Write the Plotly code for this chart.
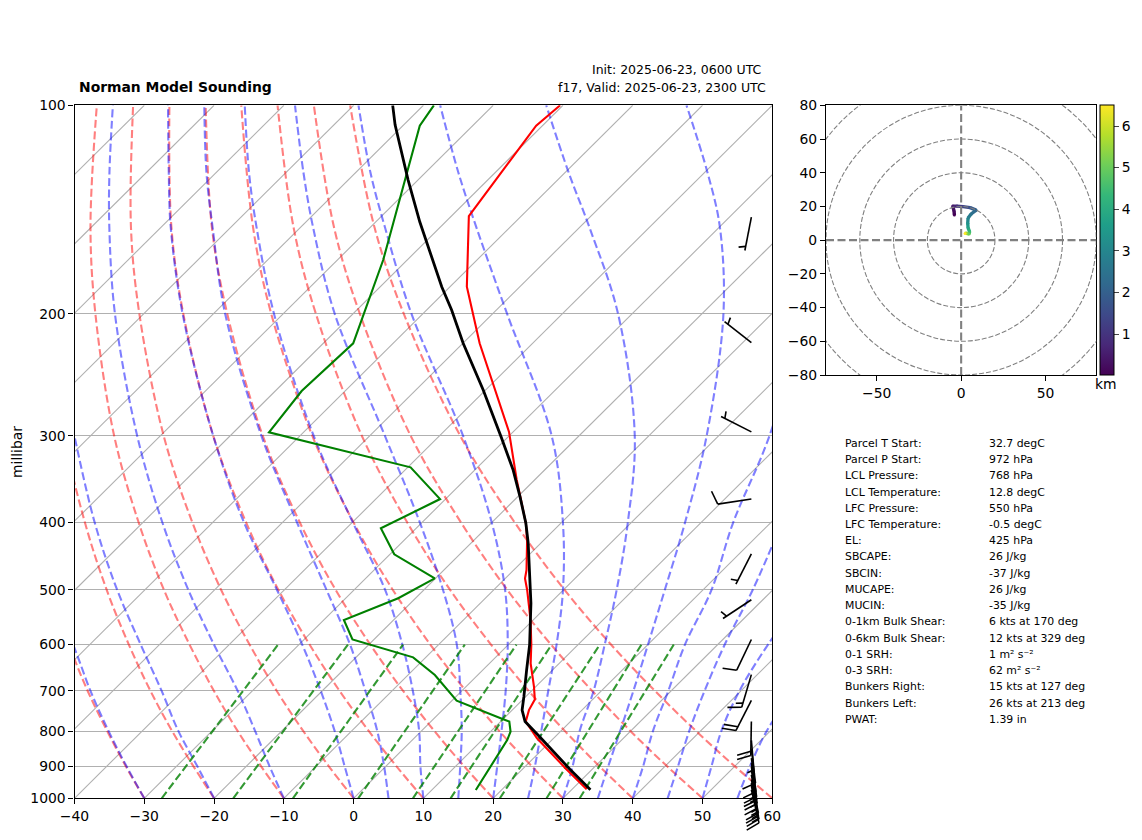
import math
import plotly.graph_objects as go
from plotly.colors import sample_colorscale

# pressure levels the background curves were read at
LEVELS = [1000, 900, 800, 700, 600, 500, 400, 300, 200, 150, 100]
MOIST_LEVELS = [1000, 900, 800, 700, 600, 500, 400, 300, 200, 150, 125, 100]

DRY_ADIABATS = [
    [-30, -37.2, -45.0, -53.6, -63.0, -73.7, -86.0, -100.8, -119.5, -131.8, -147.1],
    [-20, -27.5, -35.7, -44.6, -54.4, -65.5, -78.3, -93.7, -113.2, -125.9, -142.0],
    [-10, -17.8, -26.3, -35.5, -45.7, -57.3, -70.6, -86.6, -106.9, -120.1, -136.8],
    [0, -8.1, -16.9, -26.5, -37.1, -49.1, -62.9, -79.5, -100.6, -114.3, -131.6],
    [10, 1.6, -7.5, -17.5, -28.5, -40.9, -55.2, -72.4, -94.3, -108.5, -126.4],
    [20, 11.3, 1.9, -8.4, -19.8, -32.7, -47.5, -65.3, -88.0, -102.7, -121.2],
    [30, 21.0, 11.2, 0.6, -11.2, -24.5, -39.8, -58.2, -81.7, -96.8, -116.1],
    [40, 30.7, 20.6, 9.6, -2.5, -16.3, -32.1, -51.1, -75.3, -91.0, -110.9],
    [50, 40.4, 30.0, 18.7, 6.1, -8.1, -24.4, -44.1, -69.0, -85.2, -105.7],
    [60, 50.1, 39.4, 27.7, 14.7, 0.1, -16.7, -37.0, -62.7, -79.4, -100.5],
]

MOIST_ADIABATS = [
    [-30, -37.1, -44.8, -53.2, -62.4, -74.0, None, None, None, None, None, None],
    [-20, -26.95, -34.8, -43.0, -52.7, -64.0, -76.9, -92.3, None, None, None, None],
    [-10, -16.6, -23.8, -32.1, -42.2, -53.8, -67.2, -83.3, -104.1, -117.4, -125.3, -134.5],
    [0, -5.85, -12.4, -20.2, -29.55, -41.1, -55.5, -72.4, -94.4, -108.6, -116.8, -126.6],
    [5, -0.2, -6.3, -13.8, -22.7, -34.0, -47.9, -65.5, -88.3, -102.6, -111.4, -121.4],
    [10, 5.0, -0.3, -7.0, -15.2, -25.6, -39.9, -58.0, -81.3, -96.3, -105.3, -115.6],
    [15, 10.7, 5.8, -0.2, -7.4, -17.3, -30.3, -47.8, -72.6, -88.2, -97.5, -108.4],
    [20, 16.0, 11.5, 6.3, -0.1, -8.4, -20.0, -36.6, -61.6, -77.9, -87.9, -99.3],
    [25, 21.4, 17.2, 12.4, 6.9, -0.1, -9.8, -23.9, -47.9, -64.8, -75.3, -87.6],
    [30, 26.8, 22.7, 18.9, 13.8, 7.6, -0.5, -12.0, -32.0, -48.6, -59.5, -72.4],
    [35, 31.9, 28.5, 24.6, 20.0, 14.5, 7.7, -1.7, -16.9, -29.9, -39.6, -52.3],
    [40, 36.9, 33.2, 29.6, 25.3, 21.2, 14.6, 7.3, -5.3, None, None, None],
    [45, 41.9, 38.4, 34.8, 31.0, 27.1, 21.6, None, None, None, None, None],
    [50, 46.7, 43.0, 39.8, 37.2, 35.0, None, None, None, None, None, None],
    [55, 52.2, 49.5, 47.5, None, None, None, None, None, None, None, None],
]

# mixing ratio lines, temperature at 1000 and at 600 hPa
MIXING_P = [1000, 600]
MIXING_T1000 = [-27.5, -17.25, -8.7, 0.66, 8.5, 13.9, 20.96, 27.65, 32.4]
MIXING_T600 = [-33.0, -23.0, -15.1, -6.25, 1.15, 6.2, 13.1, 19.06, 23.7]

ISOTHERMS = [-140, -130, -120, -110, -100, -90, -80, -70, -60, -50, -40, -30,
             -20, -10, 0, 10, 20, 30, 40, 50]

TEMP_P = [970.5, 908, 818.5, 775, 746, 720, 690, 639, 600, 553, 500.5, 481.6,
          468.4, 424, 401, 347, 296, 220.5, 182.7, 144.5, 107, 100]
TEMP_T = [32.1, 26.3, 17.56, 13.6, 12.4, 11.7, 9.73, 5.92, 3.28, -0.37, -5.19, -7.17,
          -8.16, -12.4, -15.0, -22.6, -30.6, -47.6, -57.6, -67.5, -70.9, -70.4]

DEW_P = [973, 824, 801.5, 775, 768.5, 723, 664, 626, 590, 553, 514.5, 481.6, 444.5,
         407.8, 370, 333, 296.4, 258.4, 220.5, 204, 167.2, 148, 125.3, 107, 100]
DEW_T = [16.32, 13.6, 12.88, 11.24, 9.91, 0.68, -6.14, -11.81, -23.08, -27.12, -22.47,
         -20.1, -29.39, -35.05, -30.79, -39.59, -64.94, -66.22, -65.72, -67.87, -73.44,
         -77.3, -82.6, -87.58, -88.5]

PARCEL_P = [972, 908, 818.5, 775, 746, 713.5, 653, 600, 523, 479, 428, 400.6, 367, 336,
            301, 257.5, 220.5, 197.4, 182.7, 147.4, 128.2, 106.7, 100]
PARCEL_T = [32.7, 26.8, 18.13, 13.5, 11.42, 9.74, 6.28, 3.04, -2.74, -6.72, -11.84, -15.05,
            -19.69, -24.5, -31.0, -40.35, -49.96, -56.42, -61.2, -73.66, -81.4, -91.24, -94.4]

BARB_P = [145, 220, 296, 370, 444, 517, 590, 663, 722, 775, 825, 850, 875, 890, 900, 910, 925, 940, 950, 960, 972]
BARB_SPEED = [5, 5, 5, 10, 5, 5, 10, 15, 20, 20, 5, 10, 10, 10, 15, 15, 15, 15, 15, 15, 15]
BARB_DIR = [191, 308, 297, 261.5, 207, 236.5, 205.5, 196.5, 207, 181, 175, 173, 172, 171, 171, 170, 170, 168, 168, 167, 167]

HODO_U = [-4.0, -4.2, -5.0, -2.4, 1.1, 5.3, 8.9, 5.9, 4.1, 3.9, 4.1, 5.0, 4.7, 2.9, 2.3]
HODO_V = [14.9, 17.3, 20.2, 20.2, 19.9, 19.3, 17.8, 15.5, 13.1, 10.1, 7.2, 5.1, 3.6, 4.2, 4.0]
HODO_H = [0.01, 0.2, 0.5, 0.9, 1.3, 1.7, 2.1, 2.5, 2.9, 3.3, 3.8, 4.4, 5.0, 5.6, 6.5]
HODO_RINGS = [20, 40, 60, 80, 100]

TABLE_LABELS = ["Parcel T Start:", "Parcel P Start:", "LCL Pressure:", "LCL Temperature:",
                "LFC Pressure:", "LFC Temperature:", "EL:", "SBCAPE:", "SBCIN:", "MUCAPE:",
                "MUCIN:", "0-1km Bulk Shear:", "0-6km Bulk Shear:", "0-1 SRH:", "0-3 SRH:",
                "Bunkers Right:", "Bunkers Left:", "PWAT:"]
TABLE_VALUES = ["32.7 degC", "972 hPa", "768 hPa", "12.8 degC", "550 hPa", "-0.5 degC",
                "425 hPa", "26 J/kg", "-37 J/kg", "26 J/kg", "-35 J/kg", "6 kts at 170 deg",
                "12 kts at 329 deg", "1 m² s⁻²", "62 m² s⁻²", "15 kts at 127 deg",
                "26 kts at 213 deg", "1.39 in"]

FONT = "DejaVu Sans"
FIG_W, FIG_H = 1126, 824   # page is 1142x840 with the 8px body margin
PAGE_OFF = 8
PX_PER_DEG = 6.978
PX_PER_DECADE = 693
BARB_X = 57
BARB_LEN = 34


def skew(temps, pres):
    return [None if t is None else t + 100 * math.log10(1000 / p) for t, p in zip(temps, pres)]


def px(x):
    return (x - PAGE_OFF) / FIG_W


def py(y):
    return 1 - (y - PAGE_OFF) / FIG_H


def barb_path(p, speed, direction):
    # staff runs from the tip at (BARB_X, p) towards where the wind comes from
    sx = math.sin(math.radians(direction))
    sy = -math.cos(math.radians(direction))  # pixels, y down
    nx, ny = -sy, sx

    def point(dx, dy):
        return BARB_X + dx / PX_PER_DEG, p * 10 ** (dy / PX_PER_DECADE)

    xs, ys = [], []

    def seg(a, b):
        for q in (a, b):
            x, y = point(*q)
            xs.append(x)
            ys.append(y)
        xs.append(None)
        ys.append(None)

    seg((0, 0), (sx * BARB_LEN, sy * BARB_LEN))
    fulls = int(speed // 10)
    half = (speed - fulls * 10) >= 5
    along = BARB_LEN
    step = 0.125 * BARB_LEN
    for _ in range(fulls):
        start = (sx * along, sy * along)
        end = (start[0] + nx * 0.4 * BARB_LEN + sx * step, start[1] + ny * 0.4 * BARB_LEN + sy * step)
        seg(start, end)
        along -= step
    if half:
        if fulls == 0:
            along -= step
        start = (sx * along, sy * along)
        end = (start[0] + nx * 0.2 * BARB_LEN + sx * step / 2, start[1] + ny * 0.2 * BARB_LEN + sy * step / 2)
        seg(start, end)
    return xs, ys


fig = go.Figure()


def skew_line(temps, pres, color, width, dash=None, shape="linear"):
    fig.add_trace(go.Scatter(x=skew(temps, pres), y=pres, mode="lines", xaxis="x", yaxis="y",
                             line=dict(color=color, width=width, dash=dash, shape=shape),
                             hoverinfo="skip", showlegend=False))


for t in ISOTHERMS:
    skew_line([t, t], [1000, 100], "#b0b0b0", 1.1)
for curve in DRY_ADIABATS:
    skew_line(curve, LEVELS, "rgba(255,0,0,0.5)", 2.1, "8px,3.5px", "spline")
for curve in MOIST_ADIABATS:
    skew_line(curve, MOIST_LEVELS, "rgba(0,0,255,0.5)", 2.1, "8px,3.5px", "spline")
for t0, t1 in zip(MIXING_T1000, MIXING_T600):
    skew_line([t0, t1], MIXING_P, "rgba(0,128,0,0.8)", 2.1, "8px,3.5px")

skew_line(TEMP_T, TEMP_P, "red", 2.1)
skew_line(DEW_T, DEW_P, "green", 2.1)
skew_line(PARCEL_T, PARCEL_P, "black", 2.8)

barb_x, barb_y = [], []
for p, s, d in zip(BARB_P, BARB_SPEED, BARB_DIR):
    bx, by = barb_path(p, s, d)
    barb_x += bx
    barb_y += by
fig.add_trace(go.Scatter(x=barb_x, y=barb_y, mode="lines", xaxis="x3", yaxis="y3",
                         line=dict(color="black", width=1.6), hoverinfo="skip", showlegend=False))

# hodograph, one segment per colour
cmin, cmax = HODO_H[0], HODO_H[-1]
for i in range(len(HODO_H) - 1):
    mid = ((HODO_H[i] + HODO_H[i + 1]) / 2 - cmin) / (cmax - cmin)
    fig.add_trace(go.Scatter(x=HODO_U[i:i + 2], y=HODO_V[i:i + 2], mode="lines", xaxis="x2", yaxis="y2",
                             line=dict(color=sample_colorscale("Viridis", mid)[0], width=3.4),
                             hoverinfo="skip", showlegend=False))
fig.add_trace(go.Scatter(x=HODO_U, y=HODO_V, mode="markers", xaxis="x2", yaxis="y2", hoverinfo="skip",
                         showlegend=False,
                         marker=dict(size=3, color=HODO_H, colorscale="Viridis", cmin=cmin, cmax=cmax,
                                     colorbar=dict(x=px(1100), xanchor="left", xpad=0, y=py(240.2),
                                                   yanchor="middle", ypad=0, len=270 / FIG_H, lenmode="fraction",
                                                   thickness=14, thicknessmode="pixels", outlinewidth=1,
                                                   outlinecolor="black", tickvals=[1, 2, 3, 4, 5, 6],
                                                   ticks="outside", ticklen=5, tickwidth=1,
                                                   tickfont=dict(family=FONT, size=13.9, color="black")))))

shapes = []
for r in HODO_RINGS:
    shapes.append(dict(type="circle", xref="x2", yref="y2", x0=-r, x1=r, y0=-r, y1=r,
                       line=dict(color="grey", width=1.1, dash="5px,2px")))
shapes.append(dict(type="line", xref="x2", yref="y2", x0=-80, x1=80, y0=0, y1=0,
                   line=dict(color="grey", width=2.1, dash="8px,3.5px")))
shapes.append(dict(type="line", xref="x2", yref="y2", x0=0, x1=0, y0=-80, y1=80,
                   line=dict(color="grey", width=2.1, dash="8px,3.5px")))

annotations = []


def text(x, y, s, size, anchor="left", bold=False, angle=0):
    annotations.append(dict(x=px(x), y=py(y), xref="paper", yref="paper", text=f"<b>{s}</b>" if bold else s,
                            showarrow=False, xanchor=anchor, yanchor="middle", textangle=angle, borderpad=0,
                            font=dict(family=FONT, size=size, color="black")))


text(78, 87.5, "Norman Model Sounding", 13.9, bold=True)
text(763, 70, "Init: 2025-06-23, 0600 UTC", 12.5, anchor="right")
text(766.5, 87.5, "f17, Valid: 2025-06-23, 2300 UTC", 12.5, anchor="right")
text(17, 452, "millibar", 13.9, anchor="center", angle=-90)
text(1106, 384, "km", 13.9, anchor="center")
for i, (label, value) in enumerate(zip(TABLE_LABELS, TABLE_VALUES)):
    row_y = 443.3 + i * 16.235
    text(844, row_y, label, 10.9)
    text(988, row_y, value, 10.9)

axis_style = dict(showline=True, linecolor="black", linewidth=1.1, mirror=True, ticks="outside", ticklen=5,
                  tickwidth=1.1, tickcolor="black", zeroline=False,
                  tickfont=dict(family=FONT, size=13.9, color="black"))

fig.update_layout(
    width=FIG_W, height=FIG_H, margin=dict(l=0, r=0, t=0, b=0, pad=0, autoexpand=False), autosize=False,
    paper_bgcolor="white", plot_bgcolor="rgba(0,0,0,0)", showlegend=False,
    shapes=shapes, annotations=annotations,
    xaxis=dict(axis_style, domain=[px(74.5), px(772.3)], range=[-40, 60], anchor="y",
               tickvals=[-40, -30, -20, -10, 0, 10, 20, 30, 40, 50, 60], showgrid=False),
    yaxis=dict(axis_style, domain=[py(798.3), py(105.3)], type="log", range=[3, 2], anchor="x",
               tickvals=[100, 200, 300, 400, 500, 600, 700, 800, 900, 1000],
               ticktext=["100", "200", "300", "400", "500", "600", "700", "800", "900", "1000"],
               showgrid=True, gridcolor="#b0b0b0", gridwidth=1.1),
    xaxis2=dict(axis_style, domain=[px(826), px(1096.3)], range=[-80, 80], anchor="y2",
                tickvals=[-50, 0, 50], showgrid=False),
    yaxis2=dict(axis_style, domain=[py(375), py(105.3)], range=[-80, 80], anchor="x2",
                tickvals=[-80, -60, -40, -20, 0, 20, 40, 60, 80], showgrid=False),
    # full page axes on the skew-T scales so the barbs can hang below the frame
    xaxis3=dict(visible=False, domain=[0, 1], anchor="y3",
                range=[-40 + (PAGE_OFF - 74.5) / PX_PER_DEG, -40 + (PAGE_OFF + FIG_W - 74.5) / PX_PER_DEG]),
    yaxis3=dict(visible=False, domain=[0, 1], anchor="x3", type="log",
                range=[3 + (PAGE_OFF + FIG_H - 798.3) / PX_PER_DECADE, 3 + (PAGE_OFF - 798.3) / PX_PER_DECADE]),
)

fig.write_html("out.html")
